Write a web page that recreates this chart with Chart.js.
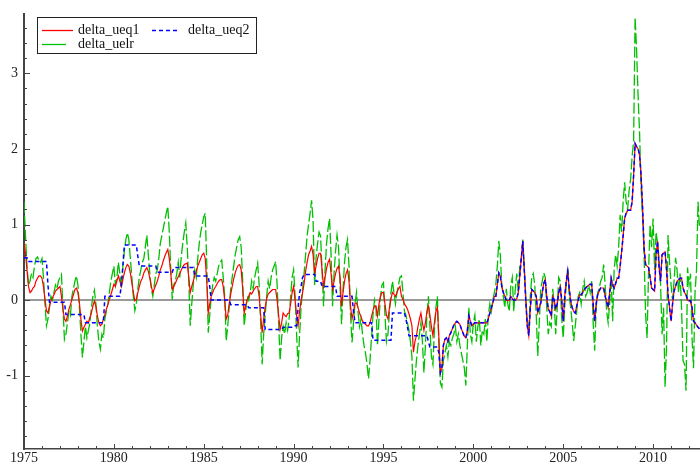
<!DOCTYPE html>
<html>
<head>
<meta charset="utf-8">
<script src="https://cdn.jsdelivr.net/npm/chart.js@4/dist/chart.umd.min.js"></script>
<style>html,body{margin:0;padding:0;background:#fff}canvas{display:block}</style>
</head>
<body>
<canvas id="c" width="700" height="466"></canvas>
<script>
// Monthly series, first observation January 1975
const startYear = 1975;
const seriesNames = ['delta_ueq1', 'delta_ueq2', 'delta_uelr'];

const ueq1 = [
  0.75, 0.62, 0.40, 0.18, 0.10, 0.12, 0.16, 0.18, 0.25, 0.29, 0.32, 0.32,
  0.29, 0.18, 0.01, -0.14, -0.17, -0.08, -0.01, 0.03, 0.07, 0.12, 0.14, 0.16,
  0.18, 0.05, -0.12, -0.25, -0.28, -0.21, -0.12, -0.06, 0.01, 0.07, 0.14, 0.16,
  0.10, -0.04, -0.25, -0.41, -0.36, -0.32, -0.28, -0.30, -0.23, -0.17, -0.08, -0.01,
  -0.08, -0.21, -0.30, -0.34, -0.32, -0.25, -0.19, -0.12, -0.06, 0.01, 0.07, 0.14,
  0.21, 0.18, 0.25, 0.32, 0.25, 0.18, 0.27, 0.36, 0.43, 0.47, 0.45, 0.36,
  0.23, 0.10, -0.01, 0.01, 0.10, 0.18, 0.25, 0.29, 0.36, 0.40, 0.43, 0.38,
  0.29, 0.18, 0.10, 0.15, 0.20, 0.25, 0.32, 0.40, 0.45, 0.52, 0.58, 0.63,
  0.67, 0.55, 0.35, 0.14, 0.18, 0.22, 0.27, 0.31, 0.35, 0.40, 0.44, 0.47,
  0.48, 0.49, 0.30, 0.10, 0.18, 0.25, 0.32, 0.38, 0.45, 0.50, 0.55, 0.60,
  0.62, 0.55, 0.25, -0.17, -0.05, 0.05, 0.10, 0.15, 0.18, 0.22, 0.25, 0.27,
  0.27, 0.18, 0.00, -0.25, -0.20, -0.05, 0.08, 0.18, 0.28, 0.36, 0.42, 0.46,
  0.47, 0.40, 0.15, -0.17, -0.08, 0.00, 0.05, 0.10, 0.08, 0.12, 0.15, 0.18,
  0.18, 0.05, -0.20, -0.43, -0.25, -0.10, 0.02, 0.08, 0.10, 0.12, 0.14, 0.14,
  0.14, 0.00, -0.20, -0.39, -0.30, -0.17, -0.20, -0.22, -0.18, -0.17, -0.05, 0.10,
  0.18, 0.00, -0.20, -0.34, -0.15, 0.00, 0.10, 0.22, 0.38, 0.50, 0.60, 0.65,
  0.71, 0.60, 0.36, 0.45, 0.55, 0.62, 0.62, 0.40, 0.18, 0.30, 0.42, 0.50,
  0.54, 0.35, 0.14, 0.25, 0.35, 0.42, 0.45, 0.30, -0.08, 0.10, 0.25, 0.35,
  0.40, 0.25, -0.08, -0.25, -0.15, -0.04, -0.04, -0.10, -0.17, -0.22, -0.28, -0.30,
  -0.32, -0.34, -0.34, -0.30, -0.22, -0.14, -0.08, -0.08, -0.21, -0.05, 0.05, 0.10,
  0.10, -0.05, -0.20, -0.25, -0.10, 0.02, 0.10, 0.08, 0.05, 0.10, 0.15, 0.18,
  0.05, 0.01, -0.05, -0.08, -0.12, -0.18, -0.25, -0.34, -0.69, -0.55, -0.47, -0.35,
  -0.25, -0.17, -0.30, -0.40, -0.30, -0.15, -0.08, -0.20, -0.35, -0.47, -0.30, -0.15,
  -0.10, -0.50, -0.96, -0.90, -0.60, -0.52, -0.50, -0.55, -0.47, -0.43, -0.38, -0.33,
  -0.30, -0.28, -0.30, -0.32, -0.38, -0.43, -0.48, -0.50, -0.40, -0.21, -0.28, -0.34,
  -0.32, -0.30, -0.30, -0.30, -0.30, -0.30, -0.30, -0.30, -0.30, -0.30, -0.25, -0.17,
  -0.10, -0.04, 0.05, 0.05, 0.20, 0.36, 0.32, 0.18, 0.10, 0.05, 0.00, -0.01,
  0.00, 0.05, 0.02, 0.00, 0.00, 0.02, 0.10, 0.32, 0.55, 0.78, 0.40, 0.00,
  -0.34, -0.47, -0.12, 0.14, 0.12, 0.10, 0.05, -0.17, -0.10, -0.04, 0.10, 0.22,
  0.27, 0.05, -0.12, -0.15, -0.21, 0.05, 0.00, -0.12, -0.05, 0.10, 0.18, 0.00,
  -0.28, 0.05, 0.25, 0.38, 0.15, -0.01, -0.10, -0.15, -0.17, -0.08, 0.00, 0.07,
  0.07, 0.10, 0.14, 0.16, 0.18, 0.20, 0.21, 0.21, -0.05, -0.28, -0.05, 0.07,
  0.12, 0.16, 0.16, 0.16, 0.05, -0.02, -0.10, 0.10, 0.29, 0.20, 0.16, 0.22,
  0.29, 0.29, 0.45, 0.64, 0.85, 1.08, 1.15, 1.19, 1.19, 1.19, 1.30, 1.65,
  2.07, 2.03, 2.00, 1.92, 1.65, 1.21, 0.69, 0.47, 0.45, 0.43, 0.30, 0.16,
  0.14, 0.12, 0.60, 0.78, 0.43, 0.25, 0.60, 0.62, 0.64, 0.40, 0.07, -0.10,
  -0.28, -0.05, 0.12, 0.18, 0.25, 0.27, 0.29, 0.29, 0.16, 0.10, 0.07, 0.00,
  -0.01, -0.01, -0.10, -0.28, -0.30, -0.33, -0.36, -0.38
];

const ueq2 = [
  0.56, 0.56, 0.56, 0.51, 0.51, 0.51, 0.51, 0.51, 0.51, 0.51, 0.51, 0.51,
  0.51, 0.51, 0.51, 0.51, 0.20, -0.03, -0.03, -0.03, -0.03, -0.03, -0.03, -0.03,
  -0.03, -0.03, -0.03, -0.03, -0.19, -0.19, -0.19, -0.19, -0.19, -0.19, -0.19, -0.19,
  -0.19, -0.19, -0.19, -0.19, -0.19, -0.30, -0.30, -0.30, -0.30, -0.30, -0.30, -0.30,
  -0.30, -0.30, -0.30, -0.30, -0.30, -0.30, 0.05, 0.05, 0.05, 0.05, 0.05, 0.05,
  0.05, 0.05, 0.05, 0.05, 0.05, 0.20, 0.45, 0.73, 0.73, 0.73, 0.73, 0.73,
  0.73, 0.73, 0.73, 0.73, 0.58, 0.45, 0.45, 0.45, 0.45, 0.45, 0.45, 0.45,
  0.45, 0.45, 0.45, 0.45, 0.45, 0.37, 0.37, 0.37, 0.37, 0.37, 0.37, 0.37,
  0.37, 0.37, 0.37, 0.37, 0.43, 0.43, 0.43, 0.43, 0.43, 0.43, 0.43, 0.43,
  0.43, 0.43, 0.43, 0.43, 0.43, 0.43, 0.32, 0.32, 0.32, 0.32, 0.32, 0.32,
  0.32, 0.32, 0.32, 0.32, 0.18, 0.00, 0.00, 0.00, 0.00, 0.00, 0.00, 0.00,
  0.00, 0.00, 0.00, 0.00, 0.00, 0.00, -0.06, -0.06, -0.06, -0.06, -0.06, -0.06,
  -0.06, -0.06, -0.06, -0.06, -0.06, -0.06, -0.10, -0.10, -0.10, -0.10, -0.10, -0.10,
  -0.10, -0.10, -0.10, -0.10, -0.10, -0.39, -0.39, -0.39, -0.39, -0.39, -0.39, -0.39,
  -0.39, -0.39, -0.39, -0.39, -0.39, -0.36, -0.36, -0.36, -0.36, -0.36, -0.36, -0.36,
  -0.34, -0.34, -0.34, -0.10, 0.10, 0.18, 0.30, 0.34, 0.34, 0.34, 0.34, 0.34,
  0.34, 0.34, 0.34, 0.25, 0.25, 0.25, 0.25, 0.18, 0.18, 0.18, 0.18, 0.18,
  0.18, 0.18, 0.18, 0.18, 0.18, 0.05, 0.05, 0.05, 0.05, 0.05, 0.05, 0.05,
  0.05, 0.05, 0.05, 0.05, -0.15, -0.30, -0.30, -0.30, -0.30, -0.30, -0.30, -0.30,
  -0.30, -0.30, -0.30, -0.30, -0.30, -0.53, -0.53, -0.53, -0.53, -0.53, -0.53, -0.53,
  -0.53, -0.53, -0.53, -0.53, -0.53, -0.53, -0.17, -0.17, -0.17, -0.17, -0.17, -0.17,
  -0.17, -0.17, -0.17, -0.25, -0.35, -0.47, -0.47, -0.47, -0.47, -0.47, -0.47, -0.47,
  -0.47, -0.47, -0.47, -0.47, -0.47, -0.47, -0.55, -0.62, -0.62, -0.62, -0.62, -0.62,
  -0.62, -0.70, -0.96, -0.90, -0.60, -0.52, -0.50, -0.55, -0.47, -0.43, -0.38, -0.33,
  -0.30, -0.28, -0.30, -0.32, -0.38, -0.43, -0.48, -0.50, -0.40, -0.21, -0.28, -0.34,
  -0.32, -0.30, -0.30, -0.30, -0.30, -0.30, -0.30, -0.30, -0.30, -0.30, -0.25, -0.17,
  -0.10, -0.04, 0.05, 0.05, 0.20, 0.36, 0.32, 0.18, 0.10, 0.05, 0.00, -0.01,
  0.00, 0.05, 0.02, 0.00, 0.00, 0.02, 0.10, 0.32, 0.55, 0.78, 0.40, 0.00,
  -0.34, -0.47, -0.12, 0.14, 0.12, 0.10, 0.05, -0.17, -0.10, -0.04, 0.10, 0.22,
  0.27, 0.05, -0.12, -0.15, -0.21, 0.05, 0.00, -0.12, -0.05, 0.10, 0.18, 0.00,
  -0.28, 0.05, 0.25, 0.38, 0.15, -0.01, -0.10, -0.15, -0.17, -0.08, 0.00, 0.07,
  0.07, 0.10, 0.14, 0.16, 0.18, 0.20, 0.21, 0.21, -0.05, -0.28, -0.05, 0.07,
  0.12, 0.16, 0.16, 0.16, 0.05, -0.02, -0.10, 0.10, 0.29, 0.20, 0.16, 0.22,
  0.29, 0.29, 0.45, 0.64, 0.85, 1.08, 1.15, 1.19, 1.19, 1.19, 1.30, 1.65,
  2.07, 2.03, 2.00, 1.92, 1.65, 1.21, 0.69, 0.47, 0.45, 0.43, 0.30, 0.16,
  0.14, 0.12, 0.60, 0.78, 0.43, 0.25, 0.60, 0.62, 0.64, 0.40, 0.07, -0.10,
  -0.28, -0.05, 0.12, 0.18, 0.25, 0.27, 0.29, 0.29, 0.16, 0.10, 0.07, 0.00,
  -0.01, -0.01, -0.10, -0.28, -0.30, -0.33, -0.36, -0.38
];

const uelr = [
  1.30, 0.85, 0.45, 0.20, 0.25, 0.35, 0.30, 0.45, 0.55, 0.57, 0.52, 0.50,
  0.55, 0.30, -0.05, -0.34, -0.25, -0.10, 0.05, 0.00, 0.10, 0.20, 0.15, 0.25,
  0.30, 0.34, -0.10, -0.52, -0.45, -0.30, -0.15, -0.20, 0.05, 0.15, 0.25, 0.32,
  0.20, -0.10, -0.45, -0.76, -0.55, -0.35, -0.50, -0.40, -0.30, -0.10, 0.05, 0.13,
  -0.05, -0.35, -0.55, -0.65, -0.45, -0.50, -0.25, -0.15, -0.05, 0.10, 0.25, 0.35,
  0.45, 0.20, 0.30, 0.50, 0.35, 0.15, 0.45, 0.65, 0.80, 0.89, 0.80, 0.55,
  0.30, 0.05, -0.14, -0.05, 0.15, 0.30, 0.40, 0.50, 0.55, 0.70, 0.86, 0.60,
  0.35, 0.15, 0.05, 0.20, 0.35, 0.40, 0.55, 0.75, 0.85, 0.95, 1.05, 1.15,
  1.24, 0.90, 0.40, 0.01, 0.20, 0.25, 0.35, 0.50, 0.30, 0.58, 0.75, 0.90,
  1.02, 0.70, 0.25, -0.34, -0.05, 0.20, 0.40, 0.30, 0.55, 0.75, 0.90, 1.00,
  1.10, 1.15, 0.50, -0.43, -0.20, 0.05, 0.20, 0.30, 0.25, 0.35, 0.45, 0.50,
  0.53, 0.30, 0.05, -0.54, -0.35, -0.10, 0.15, 0.30, 0.45, 0.60, 0.70, 0.80,
  0.84, 0.70, 0.25, -0.34, -0.15, 0.05, 0.00, 0.10, 0.25, 0.15, 0.30, 0.40,
  0.49, 0.20, -0.30, -0.85, -0.45, -0.20, 0.05, 0.25, 0.15, 0.30, 0.40, 0.45,
  0.51, 0.20, -0.30, -0.80, -0.50, -0.35, -0.45, -0.30, -0.40, -0.25, 0.05, 0.30,
  0.40, 0.05, -0.45, -0.89, -0.45, -0.10, 0.15, 0.35, 0.60, 0.85, 1.00, 1.15,
  1.32, 1.05, 0.20, 0.55, 0.75, 0.90, 0.85, 0.40, -0.08, 0.40, 0.75, 0.95,
  1.08, 0.60, -0.08, 0.35, 0.65, 0.86, 0.70, 0.20, -0.32, 0.15, 0.50, 0.70,
  0.80, 0.45, -0.20, -0.56, -0.30, -0.05, 0.10, -0.15, -0.35, -0.25, -0.45, -0.60,
  -0.70, -0.85, -1.04, -0.80, -0.50, -0.20, 0.00, -0.10, -0.60, -0.25, 0.05, 0.20,
  0.23, -0.20, -0.55, -0.45, -0.15, 0.10, 0.25, 0.10, -0.05, 0.10, 0.20, 0.30,
  0.32, 0.10, -0.15, -0.20, -0.30, -0.40, -0.55, -0.75, -1.33, -1.05, -0.80, -0.60,
  -0.45, -0.30, -0.55, -0.96, -0.60, -0.20, 0.05, -0.35, -0.75, -0.85, -0.40, -0.10,
  0.05, -0.60, -1.10, -1.15, -0.80, -0.70, -0.60, -0.75, -0.55, -0.60, -0.50, -0.45,
  -0.35, -0.55, -0.45, -0.60, -0.70, -0.80, -0.90, -1.13, -0.60, -0.10, -0.45, -0.55,
  -0.30, -0.20, -0.55, -0.35, -0.25, -0.60, -0.40, -0.45, -0.25, -0.55, -0.20, -0.05,
  -0.15, 0.00, 0.10, 0.20, 0.45, 0.78, 0.60, 0.20, 0.05, -0.10, 0.15, -0.05,
  -0.15, 0.20, 0.30, -0.15, 0.15, 0.35, 0.10, 0.45, 0.55, 0.80, 0.45, 0.05,
  -0.30, -0.39, 0.05, 0.30, 0.35, 0.20, -0.20, -0.74, -0.30, 0.15, 0.25, 0.36,
  0.30, -0.10, -0.45, -0.30, -0.35, 0.15, -0.05, -0.45, -0.10, 0.30, 0.25, -0.25,
  -0.50, -0.10, 0.20, 0.43, 0.05, -0.10, -0.30, -0.54, -0.35, -0.15, 0.05, 0.10,
  -0.05, 0.15, 0.25, 0.05, 0.10, 0.20, 0.10, 0.25, -0.30, -0.67, -0.10, 0.10,
  0.15, 0.25, 0.30, 0.47, 0.20, -0.15, -0.30, -0.05, 0.30, -0.28, 0.40, 0.60,
  0.45, 0.70, 1.13, 0.90, 1.30, 1.56, 1.30, 1.20, 1.45, 1.60, 1.90, 2.10,
  3.74, 3.30, 2.70, 2.20, 1.48, 1.08, 0.60, -0.20, -0.50, 0.40, 1.00, 0.70,
  1.08, 0.40, 0.90, 0.75, 0.55, 0.20, -0.45, -0.10, -1.15, -0.60, 0.86, 0.50,
  0.20, 0.00, 0.25, 0.56, 0.40, 0.10, 0.35, -0.10, -0.80, -0.85, -1.20, 0.43,
  0.20, 0.35, -0.50, -0.90, 0.10, 0.40, 1.30, 0.95
];

const toPoints = arr => arr.map((v, i) => ({ x: startYear + i / 12, y: v }));

const FONT = '"Liberation Serif", "Times New Roman", serif';

// Inward-pointing major and minor tick marks on both axes
const axisTicks = {
  id: 'axisTicks',
  afterDraw(chart) {
    const { ctx, chartArea: a, scales: { x, y } } = chart;
    ctx.save();
    ctx.strokeStyle = '#444';
    ctx.lineWidth = 1;
    for (let k = -10; k <= 20; k++) {
      const v = k / 5;
      if (v < y.min || v > y.max) continue;
      const py = Math.round(y.getPixelForValue(v)) + 0.5;
      const len = k % 5 === 0 ? 6 : 3;
      ctx.beginPath();
      ctx.moveTo(a.left, py);
      ctx.lineTo(a.left + len, py);
      ctx.stroke();
    }
    for (let yr = Math.ceil(x.min); yr <= x.max; yr++) {
      const px = Math.round(x.getPixelForValue(yr)) + 0.5;
      const len = yr % 5 === 0 ? 5 : 3;
      ctx.beginPath();
      ctx.moveTo(px, a.bottom);
      ctx.lineTo(px, a.bottom - len);
      ctx.stroke();
    }
    ctx.restore();
  }
};

// Boxed two-column legend in the upper left corner
const boxLegend = {
  id: 'boxLegend',
  afterDraw(chart) {
    const ctx = chart.ctx;
    const ds = chart.data.datasets;
    ctx.save();
    ctx.fillStyle = '#fff';
    ctx.fillRect(37, 17, 219, 37);
    ctx.strokeStyle = '#222';
    ctx.lineWidth = 1;
    ctx.strokeRect(37.5, 17.5, 219, 36);
    const items = [
      { d: ds[0], x: 42, len: 31, y: 30.5, dash: [] },
      { d: ds[1], x: 152, len: 27, y: 30.5, dash: [4, 3] },
      { d: ds[2], x: 42, len: 24, y: 44.5, dash: [] }
    ];
    ctx.font = '14px ' + FONT;
    ctx.textBaseline = 'middle';
    for (const it of items) {
      ctx.strokeStyle = it.d.borderColor;
      ctx.lineWidth = 1.3;
      ctx.setLineDash(it.dash);
      ctx.beginPath();
      ctx.moveTo(it.x, it.y);
      ctx.lineTo(it.x + it.len, it.y);
      ctx.stroke();
      ctx.setLineDash([]);
      ctx.fillStyle = '#111';
      ctx.fillText(it.d.label, it.x === 42 ? 78 : 188, it.y);
    }
    ctx.restore();
  }
};

new Chart(document.getElementById('c'), {
  type: 'line',
  data: {
    datasets: [
      { label: seriesNames[0], data: toPoints(ueq1), borderColor: '#ff0000', borderWidth: 1.2, order: 1 },
      { label: seriesNames[1], data: toPoints(ueq2), borderColor: '#0000ff', borderWidth: 1.5, borderDash: [4, 3], order: 0 },
      { label: seriesNames[2], data: toPoints(uelr), borderColor: '#00c000', borderWidth: 1.3, borderDash: [11, 3], order: 2 }
    ]
  },
  options: {
    responsive: false,
    animation: false,
    devicePixelRatio: 1,
    layout: { padding: { top: 12, left: 0, right: 0, bottom: 0 } },
    elements: { point: { radius: 0 }, line: { tension: 0, fill: false } },
    plugins: { legend: { display: false }, tooltip: { enabled: false } },
    scales: {
      x: {
        type: 'linear',
        min: 1975,
        max: 2012.61,
        afterFit(s) { s.height = 17; },
        grid: { display: false, drawTicks: false },
        border: { display: true, color: '#444', width: 1.5 },
        ticks: {
          stepSize: 5, autoSkip: false, maxRotation: 0, includeBounds: false, padding: 1,
          color: '#222', font: { family: FONT, size: 14 },
          callback: v => String(v)
        }
      },
      y: {
        min: -1.97,
        max: 3.78,
        afterFit(s) { s.width = 24; },
        grid: {
          drawTicks: false,
          lineWidth: 2,
          color: c => (c.tick && c.tick.value === 0 ? '#9a9a9a' : 'rgba(0,0,0,0)')
        },
        border: { display: true, color: '#444', width: 2 },
        ticks: {
          stepSize: 1, includeBounds: false, padding: 6,
          color: '#222', font: { family: FONT, size: 14 },
          callback: v => String(v)
        }
      }
    }
  },
  plugins: [axisTicks, boxLegend]
});
</script>
</body>
</html>
